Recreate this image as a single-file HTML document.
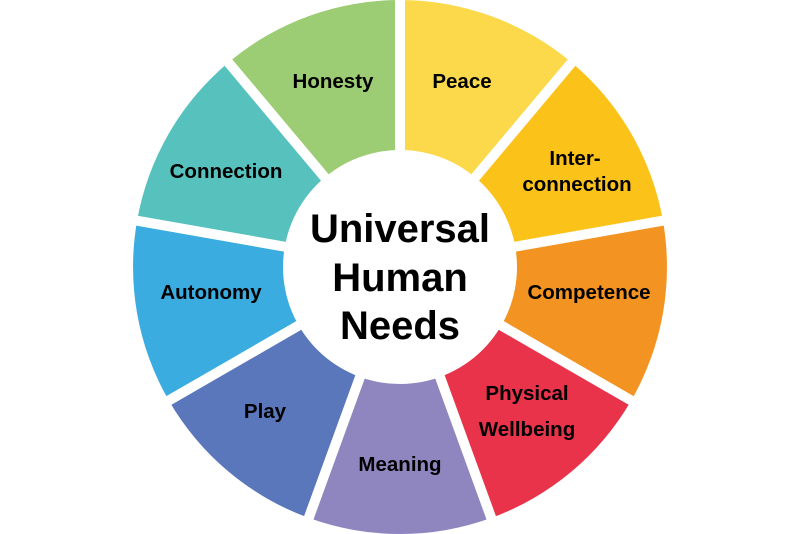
<!DOCTYPE html>
<html><head><meta charset="utf-8"><style>
html,body{margin:0;padding:0;background:#fff;}
svg{display:block}
text{font-family:"Liberation Sans","DejaVu Sans",sans-serif;font-weight:bold;fill:#000;text-anchor:middle}
.l{font-size:20.5px}
.c{font-size:40px;font-weight:900}
</style></head><body>
<svg width="800" height="534" viewBox="0 0 800 534" xmlns="http://www.w3.org/2000/svg">
<g>
<path d="M400,267 L400,0 A267,267 0 0 1 571.6,62.5 Z" fill="#fcd94a"/>
<path d="M400,267 L571.6,62.5 A267,267 0 0 1 662.9,220.6 Z" fill="#fbc21a"/>
<path d="M400,267 L662.9,220.6 A267,267 0 0 1 631.2,400.5 Z" fill="#f39422"/>
<path d="M400,267 L631.2,400.5 A267,267 0 0 1 491.3,517.9 Z" fill="#e8334a"/>
<path d="M400,267 L491.3,517.9 A267,267 0 0 1 308.7,517.9 Z" fill="#8f86bf"/>
<path d="M400,267 L308.7,517.9 A267,267 0 0 1 168.8,400.5 Z" fill="#5a77bb"/>
<path d="M400,267 L168.8,400.5 A267,267 0 0 1 137.1,220.6 Z" fill="#3aace0"/>
<path d="M400,267 L137.1,220.6 A267,267 0 0 1 228.4,62.5 Z" fill="#57c2bd"/>
<path d="M400,267 L228.4,62.5 A267,267 0 0 1 400,0 Z" fill="#9ccc74"/>
</g>
<g stroke="#fff" stroke-width="10">
<line x1="400" y1="267" x2="400" y2="-20"/>
<line x1="400" y1="267" x2="584.5" y2="47.2"/>
<line x1="400" y1="267" x2="682.6" y2="217.2"/>
<line x1="400" y1="267" x2="648.5" y2="410.5"/>
<line x1="400" y1="267" x2="498.1" y2="536.7"/>
<line x1="400" y1="267" x2="301.9" y2="536.7"/>
<line x1="400" y1="267" x2="151.5" y2="410.5"/>
<line x1="400" y1="267" x2="117.4" y2="217.2"/>
<line x1="400" y1="267" x2="215.5" y2="47.2"/>
</g>
<circle cx="400" cy="267" r="117" fill="#fff"/>
<text class="c" x="400" y="242">Universal</text>
<text class="c" x="400" y="291">Human</text>
<text class="c" x="400" y="339">Needs</text>
<text class="l" x="333" y="88">Honesty</text>
<text class="l" x="462" y="88">Peace</text>
<text class="l" x="575" y="165">Inter-</text>
<text class="l" x="577" y="191">connection</text>
<text class="l" x="589" y="299">Competence</text>
<text class="l" x="527" y="400">Physical</text>
<text class="l" x="527" y="436">Wellbeing</text>
<text class="l" x="400" y="471">Meaning</text>
<text class="l" x="265" y="418">Play</text>
<text class="l" x="211" y="299">Autonomy</text>
<text class="l" x="226" y="178">Connection</text>
</svg>
</body></html>
